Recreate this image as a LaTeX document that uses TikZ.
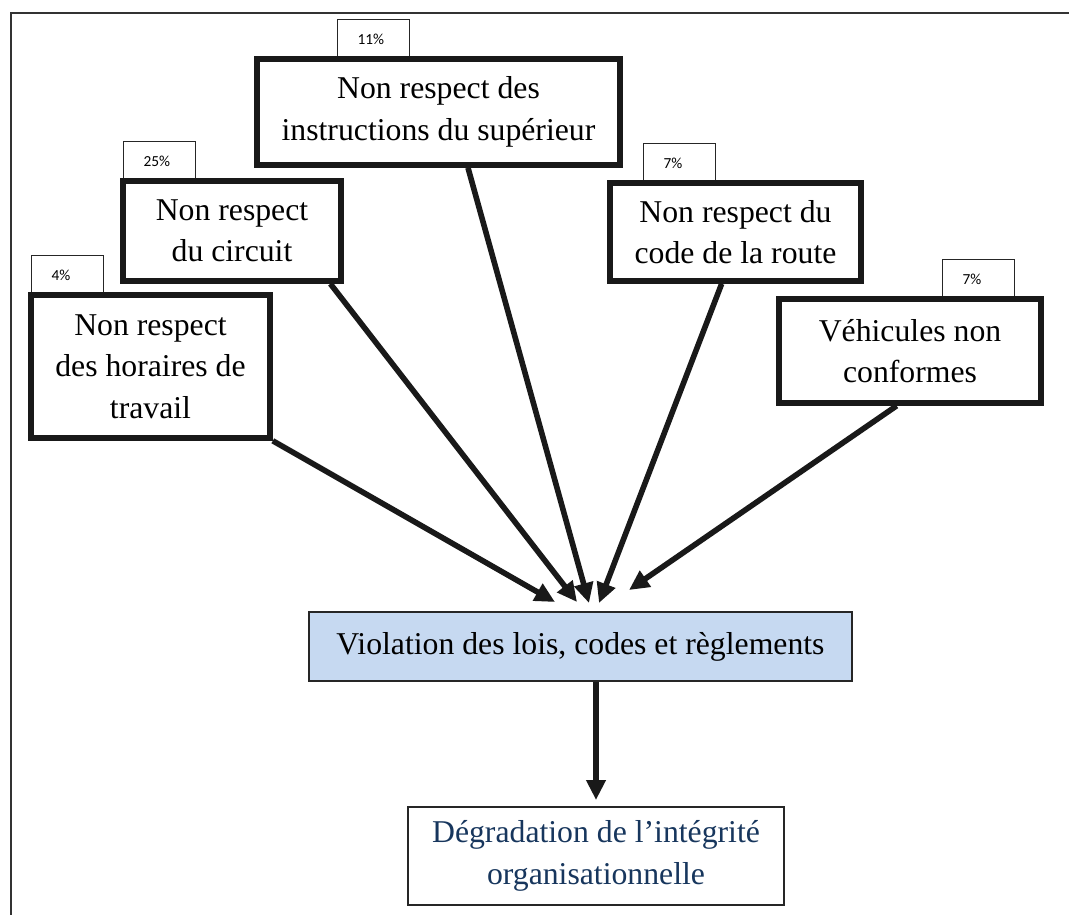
\documentclass[tikz,border=0pt]{standalone}
\usepackage{fontspec}
\setmainfont{Liberation Serif}
\newfontfamily\tagfont{Carlito}
\usetikzlibrary{arrows.meta,calc}
\definecolor{vblue}{HTML}{C6D9F1}
\definecolor{gtext}{HTML}{17365D}
\begin{document}
\begin{tikzpicture}[x=0.75pt,y=-0.75pt,
  cause/.style={draw=black!90, line width=4.2pt, fill=white, align=center,
    font=\fontsize{23.8}{31}\selectfont, inner sep=0pt},
  tagbox/.style={draw=black!85, line width=1pt, fill=white,
    font=\tagfont\fontsize{11.5}{13}\selectfont, text width=24pt, align=left,
    inner xsep=15pt, inner ysep=0pt, minimum height=29pt, anchor=south west},
  arr/.style={line width=4.2pt, draw=black!90, -{Triangle[length=15pt,width=14pt]}},
  thinbox/.style={draw=black!85, line width=1.3pt, align=center,
    font=\fontsize{23.8}{31}\selectfont, inner sep=0pt}]
\clip (0,0) rectangle (1069,914);
\fill[white] (0,0) rectangle (1069,914);
\draw[line width=1.3pt, draw=black!80] (11,13) rectangle (1100,950);

% percentage tags
\node[tagbox] (pA) at (31,295) {4\%};
\node[tagbox] (pB) at (123,181) {25\%};
\node[tagbox] (pC) at (337,59) {11\%};
\node[tagbox] (pD) at (643,183) {7\%};
\node[tagbox] (pE) at (942,299) {7\%};

% cause boxes
\node[cause, minimum width=179.25pt, minimum height=107.25pt] (A) at (150.5,366.5) {Non respect\\des horaires de\\travail};
\node[cause, minimum width=163.5pt, minimum height=75pt] (B) at (232,231) {Non respect\\du circuit};
\node[cause, minimum width=272.25pt, minimum height=79.5pt] (C) at (438.5,112) {Non respect des\\instructions du supérieur};
\node[cause, minimum width=188.25pt, minimum height=73.5pt] (D) at (735.5,232) {Non respect du\\code de la route};
\node[cause, minimum width=196.5pt, minimum height=78pt] (E) at (910,351) {Véhicules non\\conformes};

% central and result boxes
\node[thinbox, fill=vblue, minimum width=407.25pt, minimum height=51.75pt] (V) at (580.5,646.5) {Violation des lois, codes et règlements};
\node[thinbox, fill=white, text=gtext, minimum width=282pt, minimum height=73.5pt] (G) at (596,856) {Dégradation de l’intégrité\\organisationnelle};

% arrow tips
\coordinate (tA) at (555,602);
\coordinate (tB) at (577,602);
\coordinate (tC) at (589,603);
\coordinate (tD) at (599,603);
\coordinate (tE) at (629,590);
\coordinate (tG) at (596,800);

\draw[arr] (A.south east) -- (tA);
\draw[arr] ($(B.south west)!0.94!(B.south east)$) -- (tB);
\draw[arr] ($(C.south west)!0.58!(C.south east)$) -- (tC);
\draw[arr] ($(D.south west)!0.446!(D.south east)$) -- (tD);
\draw[arr] ($(E.south west)!0.45!(E.south east)$) -- (tE);
\draw[arr] (tG |- V.south) -- (tG);
\end{tikzpicture}
\end{document}
